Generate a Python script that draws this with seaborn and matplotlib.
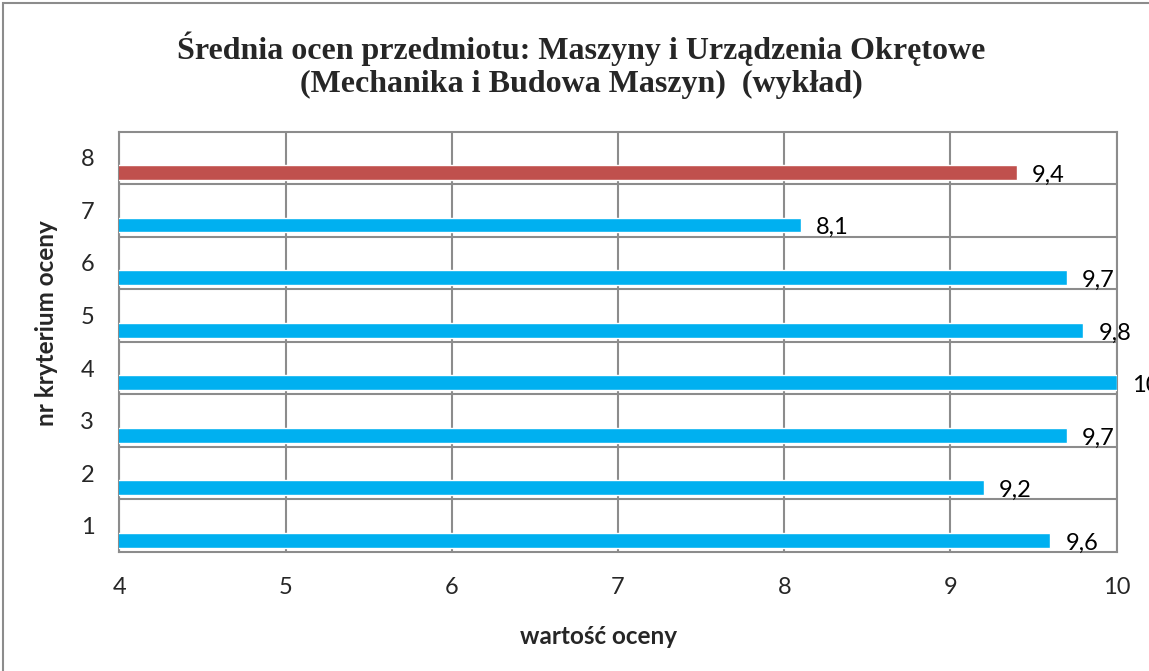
import matplotlib
matplotlib.use("Agg")
import matplotlib.pyplot as plt
import seaborn as sns
import pandas as pd
import numpy as np
from matplotlib.patches import Rectangle

categories = [1, 2, 3, 4, 5, 6, 7, 8]
values = [9.6, 9.2, 9.7, 10.0, 9.8, 9.7, 8.1, 9.4]
labels = ["9,6", "9,2", "9,7", "10", "9,8", "9,7", "8,1", "9,4"]
highlight = ["n", "n", "n", "n", "n", "n", "n", "y"]
x_ticks = [4, 5, 6, 7, 8, 9, 10]

title = "Średnia ocen przedmiotu: Maszyny i Urządzenia Okrętowe\n(Mechanika i Budowa Maszyn)  (wykład)"
xlabel = "wartość oceny"
ylabel = "nr kryterium oceny"

BLUE = "#00B0F0"
RED = "#C0504D"
GRID = "#8C8C8C"

sns.set_style("white")
plt.rcParams["font.family"] = ["Lato", "DejaVu Sans"]

W, H = 1149, 671
fig = plt.figure(figsize=(W / 100, H / 100), dpi=100)
ax = fig.add_axes([0.1038, 0.1774, 0.9719 - 0.1038, 0.804 - 0.1774])

df = pd.DataFrame({
    "pos": np.array(categories) - 0.28,
    "value": values,
    "hl": highlight,
})

sns.barplot(data=df, x="value", y="pos", hue="hl", orient="h", native_scale=True,
            palette={"n": BLUE, "y": RED}, width=0.28, dodge=False,
            legend=False, ax=ax, saturation=1, zorder=3)

ax.set_xlim(4, 10)
ax.set_ylim(0.5, 8.5)
ax.set_xticks(x_ticks)
ax.set_xticklabels([str(t) for t in x_ticks], fontsize=17)
ax.set_yticks(categories)
ax.set_yticklabels([str(c) for c in categories], fontsize=17)
ax.set_yticks([c + 0.5 for c in categories[:-1]], minor=True)
ax.tick_params(axis="both", which="both", length=0)
ax.tick_params(axis="x", pad=18)
ax.tick_params(axis="y", pad=18)

ax.grid(True, axis="x", which="major", color=GRID, linewidth=1.5, zorder=0)
ax.grid(True, axis="y", which="minor", color=GRID, linewidth=1.5, zorder=0)
ax.grid(False, axis="y", which="major")
ax.set_axisbelow(True)
for s in ax.spines.values():
    s.set_color(GRID)
    s.set_linewidth(1.5)
    s.set_visible(True)

for v, p, lab in zip(values, df["pos"], labels):
    ax.annotate(lab, xy=(v, p), xytext=(11, -2), textcoords="offset points",
                va="center", ha="left", fontsize=17, color="black",
                annotation_clip=False)

ax.set_xlabel("")
ax.set_ylabel("")
fig.text(598 / W, 1 - 636 / H, xlabel, ha="center", va="center", fontsize=17.5,
         fontweight="bold")
fig.text(47 / W, 1 - 323 / H, ylabel, ha="center", va="center", fontsize=17.5,
         fontweight="bold", rotation=90)

fig.text(581 / W, 1 - 65.5 / H, title, ha="center", va="center", fontsize=23,
         fontweight="bold", family="Liberation Serif", linespacing=1.18)

fig.patches.append(Rectangle((3 / W, -0.1), 1.2, 1 - 3 / H + 0.1,
                             transform=fig.transFigure, fill=False,
                             edgecolor="#8C8C8C", linewidth=1.5))

fig.savefig("out.png", dpi=100)
